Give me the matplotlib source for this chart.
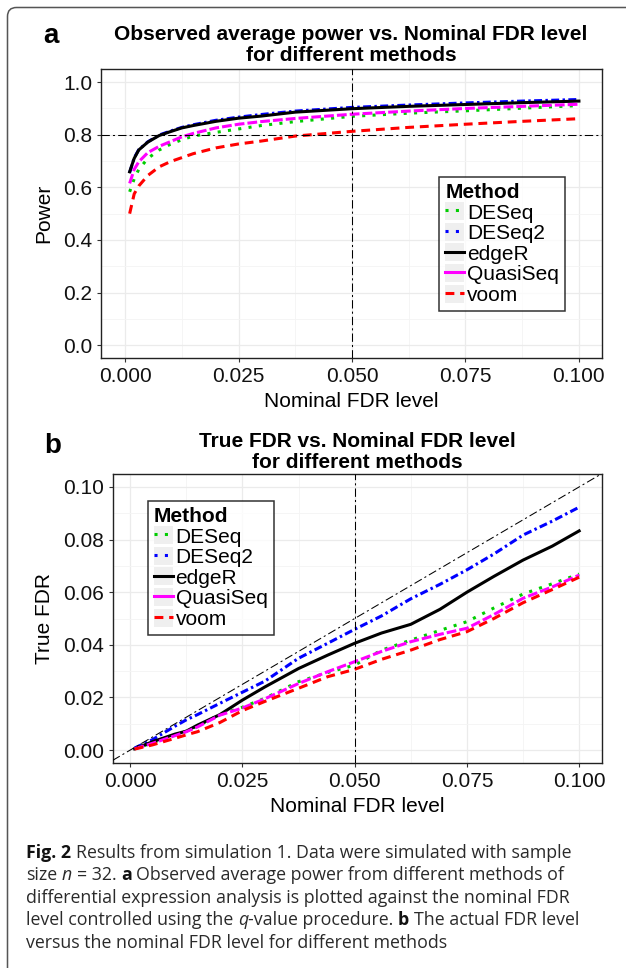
import numpy as np
import matplotlib
matplotlib.use("Agg")
import matplotlib.pyplot as plt
from matplotlib.lines import Line2D
from matplotlib.patches import Rectangle, FancyBboxPatch
from matplotlib.legend_handler import HandlerLine2D

# ---------------- data ----------------
methods = ["DESeq", "DESeq2", "edgeR", "QuasiSeq", "voom"]

# Panel a: observed average power vs nominal FDR
nominal_a = [0.001, 0.002, 0.003, 0.005, 0.0075, 0.01, 0.0125, 0.015, 0.02, 0.025,
             0.03, 0.0375, 0.05, 0.0625, 0.075, 0.0875, 0.1]
power_deseq = [0.583, 0.632, 0.668, 0.710, 0.742, 0.764, 0.781, 0.795, 0.809, 0.822,
               0.835, 0.850, 0.870, 0.882, 0.891, 0.901, 0.911]
power_deseq2 = [0.656, 0.712, 0.743, 0.773, 0.799, 0.814, 0.828, 0.838, 0.855, 0.867,
                0.877, 0.890, 0.904, 0.913, 0.921, 0.928, 0.934]
power_edger = [0.659, 0.710, 0.742, 0.772, 0.797, 0.812, 0.826, 0.835, 0.851, 0.863,
               0.871, 0.886, 0.899, 0.908, 0.915, 0.922, 0.928]
power_quasiseq = [0.615, 0.668, 0.697, 0.732, 0.756, 0.774, 0.792, 0.805, 0.826, 0.840,
                  0.850, 0.862, 0.878, 0.890, 0.900, 0.908, 0.916]
power_voom = [0.500, 0.575, 0.605, 0.645, 0.678, 0.698, 0.713, 0.728, 0.750, 0.765,
              0.776, 0.795, 0.813, 0.828, 0.840, 0.851, 0.861]

# Panel b: true FDR vs nominal FDR
nominal_b = [0.001, 0.005, 0.01, 0.0125, 0.015, 0.02, 0.025, 0.03, 0.0375, 0.044,
             0.05, 0.056, 0.0625, 0.069, 0.075, 0.081, 0.0875, 0.094, 0.1]
fdr_deseq = [0.0005, 0.0028, 0.0058, 0.0072, 0.0092, 0.0135, 0.0163, 0.0197, 0.0260, 0.0295,
             0.0323, 0.0380, 0.0418, 0.0455, 0.0488, 0.0540, 0.0593, 0.0632, 0.0669]
fdr_deseq2 = [0.0008, 0.0040, 0.0091, 0.0115, 0.0135, 0.0178, 0.0220, 0.0262, 0.0349, 0.0406,
              0.0459, 0.0510, 0.0575, 0.0630, 0.0685, 0.0745, 0.0817, 0.0870, 0.0923]
fdr_edger = [0.0005, 0.0032, 0.0061, 0.0072, 0.0095, 0.0135, 0.0190, 0.0240, 0.0310, 0.0361,
             0.0406, 0.0445, 0.0478, 0.0535, 0.0600, 0.0660, 0.0722, 0.0775, 0.0833]
fdr_quasiseq = [0.0005, 0.0026, 0.0055, 0.0070, 0.0088, 0.0133, 0.0160, 0.0195, 0.0253, 0.0298,
                0.0336, 0.0375, 0.0412, 0.0440, 0.0463, 0.0515, 0.0577, 0.0620, 0.0665]
fdr_voom = [0.0004, 0.0020, 0.0045, 0.0058, 0.0070, 0.0105, 0.0150, 0.0185, 0.0235, 0.0279,
            0.0307, 0.0345, 0.0380, 0.0420, 0.0450, 0.0500, 0.0560, 0.0610, 0.0657]

x_ticks = [0.0, 0.025, 0.05, 0.075, 0.1]
power_ticks = [0.0, 0.2, 0.4, 0.6, 0.8, 1.0]
fdr_ticks = [0.0, 0.02, 0.04, 0.06, 0.08, 0.10]
nominal_ref = 0.05
power_ref = 0.8

# ---------------- styles ----------------
colors = {"DESeq": "#00cd00", "DESeq2": "#0000ff", "edgeR": "#000000",
          "QuasiSeq": "#ff00ff", "voom": "#ff0000"}
styles = {"DESeq": (0, (1, 2.4)), "DESeq2": (0, (2.6, 1.1, 0.8, 1.1)),
          "edgeR": "solid", "QuasiSeq": (0, (3.2, 1.0)), "voom": (0, (2.9, 1.9))}
key_styles = {"DESeq": (0, (1, 2.4)), "DESeq2": (0, (1, 2.4)), "edgeR": "solid",
              "QuasiSeq": "solid", "voom": (0, (2.9, 1.9))}
LW = 2.2

plt.rcParams['font.family'] = ['Liberation Sans', 'DejaVu Sans']

W, H = 626, 968
fig = plt.figure(figsize=(W / 100, H / 100), dpi=100)
fig.patch.set_facecolor("white")


class KeyHandler(HandlerLine2D):
    def create_artists(self, legend, orig_handle, xdescent, ydescent, width,
                       height, fontsize, trans):
        bg = Rectangle((-xdescent, -ydescent), width, height, transform=trans,
                       facecolor="#efefef", edgecolor="none")
        arts = super().create_artists(legend, orig_handle, xdescent, ydescent,
                                      width, height, fontsize, trans)
        return [bg] + list(arts)


def style_axes(ax, xminor, yminor):
    ax.set_facecolor("white")
    ax.set_xticks(xminor, minor=True)
    ax.set_yticks(yminor, minor=True)
    ax.grid(which="major", color="#ebebeb", lw=0.9, zorder=0)
    ax.grid(which="minor", color="#f4f4f4", lw=0.6, zorder=0)
    ax.set_axisbelow(True)
    for s in ax.spines.values():
        s.set_color("#222222")
        s.set_linewidth(1.0)
    ax.tick_params(which="major", length=3, width=0.8, color="#333333",
                   labelsize=15, labelcolor="#111111", pad=3)
    ax.tick_params(which="minor", length=0)


def add_legend(ax, anchor_px):
    handles = [Line2D([], [], color=colors[m], lw=LW, linestyle=key_styles[m])
               for m in methods]
    leg = ax.legend(handles, methods, title="Method", loc="upper left",
                    bbox_to_anchor=(anchor_px[0] / W, 1 - anchor_px[1] / H),
                    bbox_transform=fig.transFigure, borderaxespad=0,
                    fontsize=15, title_fontproperties={"weight": "bold", "size": 15},
                    frameon=True, fancybox=False, edgecolor="black",
                    handlelength=0.9, handleheight=0.95, handletextpad=0.15,
                    labelspacing=0.02, borderpad=0.3, alignment="left",
                    handler_map={Line2D: KeyHandler()})
    leg.get_frame().set_linewidth(1.1)
    leg.set_zorder(10)
    return leg


# ---------------- panel a ----------------
axa = fig.add_axes([100.6 / W, 1 - 358.3 / H, 501 / W, 289.3 / H])
series_a = {"DESeq": power_deseq, "DESeq2": power_deseq2, "edgeR": power_edger,
            "QuasiSeq": power_quasiseq, "voom": power_voom}
for m in methods:
    axa.plot(nominal_a, series_a[m], color=colors[m], lw=LW, linestyle=styles[m],
             zorder=3)
refdash = (0, (8, 3, 2, 3))
axa.axvline(nominal_ref, color="black", lw=0.75, linestyle=refdash, zorder=4)
axa.axhline(power_ref, color="black", lw=0.75, linestyle=refdash, zorder=4)
axa.set_xlim(-0.0054, 0.105)
axa.set_ylim(-0.05, 1.05)
axa.set_xticks(x_ticks)
axa.set_xticklabels([f"{v:.3f}" for v in x_ticks])
axa.set_yticks(power_ticks)
axa.set_yticklabels([f"{v:.1f}" for v in power_ticks])
style_axes(axa, [0.0125, 0.0375, 0.0625, 0.0875], [0.1, 0.3, 0.5, 0.7, 0.9])
axa.set_xlabel("Nominal FDR level", fontsize=15)
axa.xaxis.set_label_coords(0.5, -0.150)
axa.xaxis.label.set_verticalalignment("center")
axa.set_ylabel("Power", fontsize=15)
axa.yaxis.set_label_coords(-0.113, 0.5)
axa.yaxis.label.set_verticalalignment("center")
axa.text(0.5, 1.083, "Observed average power vs. Nominal FDR level\nfor different methods",
         transform=axa.transAxes, ha="center", va="center", fontsize=15,
         fontweight="bold", linespacing=1.15)
add_legend(axa, (439, 176.7))
fig.text(43 / W, 1 - 43 / H, "a", fontsize=20, fontweight="bold", ha="left",
         va="baseline")

# ---------------- panel b ----------------
axb = fig.add_axes([112.6 / W, 1 - 763.3 / H, 489 / W, 289 / H])
series_b = {"DESeq": fdr_deseq, "DESeq2": fdr_deseq2, "edgeR": fdr_edger,
            "QuasiSeq": fdr_quasiseq, "voom": fdr_voom}
for m in methods:
    axb.plot(nominal_b, series_b[m], color=colors[m], lw=LW, linestyle=styles[m],
             zorder=3)
axb.axvline(nominal_ref, color="black", lw=0.75, linestyle=refdash, zorder=4)
axb.axline((0, 0), slope=1, color="black", lw=0.75, linestyle=refdash, zorder=4)
axb.set_xlim(-0.0039, 0.105)
axb.set_ylim(-0.005, 0.1048)
axb.set_xticks(x_ticks)
axb.set_xticklabels([f"{v:.3f}" for v in x_ticks])
axb.set_yticks(fdr_ticks)
axb.set_yticklabels([f"{v:.2f}" for v in fdr_ticks])
style_axes(axb, [0.0125, 0.0375, 0.0625, 0.0875], [0.01, 0.03, 0.05, 0.07, 0.09])
axb.set_xlabel("Nominal FDR level", fontsize=15)
axb.xaxis.set_label_coords(0.5, -0.150)
axb.xaxis.label.set_verticalalignment("center")
axb.set_ylabel("True FDR", fontsize=15)
axb.yaxis.set_label_coords(-0.140, 0.5)
axb.yaxis.label.set_verticalalignment("center")
axb.text(0.5, 1.076, "True FDR vs. Nominal FDR level\nfor different methods",
         transform=axb.transAxes, ha="center", va="center", fontsize=15,
         fontweight="bold", linespacing=1.15)
add_legend(axb, (147.5, 500.7))
fig.text(44 / W, 1 - 453 / H, "b", fontsize=20, fontweight="bold", ha="left",
         va="baseline")

# ---------------- page frame ----------------
frame = FancyBboxPatch((0.075, -0.5), 7.0, (H - 7.5) / 100 + 0.5,
                       boxstyle="round,pad=0,rounding_size=0.09",
                       transform=fig.dpi_scale_trans, facecolor="none",
                       edgecolor="#555555", linewidth=1.1)
fig.add_artist(frame)

# ---------------- caption ----------------
renderer = fig.canvas.get_renderer()
CAP_FONT = ["Open Sans", "DejaVu Sans"]
N = {"weight": "normal", "style": "normal", "color": "#2a2a2a"}
B = {"weight": "bold", "style": "normal", "color": "#111111"}
I = {"weight": "normal", "style": "italic", "color": "#2a2a2a"}

# (text, style, space after)
caption_lines = [
    [("Fig. 2", B, True), ("Results from simulation 1. Data were simulated with sample", N, False)],
    [("size", N, True), ("n", I, True), ("= 32.", N, True), ("a", B, True),
     ("Observed average power from different methods of", N, False)],
    [("differential expression analysis is plotted against the nominal FDR", N, False)],
    [("level controlled using the", N, True), ("q", I, False), ("-value procedure.", N, True),
     ("b", B, True), ("The actual FDR level", N, False)],
    [("versus the nominal FDR level for different methods", N, False)],
]
baselines = [858, 880.4, 902.8, 925.3, 947.7]


def twidth(s, size, kw):
    t = fig.text(0, 0, s, fontsize=size, family=CAP_FONT, fontweight=kw["weight"],
                 fontstyle=kw["style"])
    w = t.get_window_extent(renderer).width
    t.remove()
    return w


def space_w(size):
    return twidth("a a", size, N) - twidth("aa", size, N)


def line_width(segs, size):
    sp_ = space_w(size)
    return sum(twidth(s, size, kw) + (sp_ if gap else 0) for s, kw, gap in segs)


size = 10 * 548 / line_width(caption_lines[0], 10)
sp = space_w(size)
for segs, yb in zip(caption_lines, baselines):
    x = 26.0
    for s, kw, gap in segs:
        fig.text(x / W, 1 - yb / H, s, fontsize=size, family=CAP_FONT,
                 fontweight=kw["weight"], fontstyle=kw["style"], color=kw["color"],
                 ha="left", va="baseline")
        x += twidth(s, size, kw) + (sp if gap else 0.0)

fig.savefig("out.png", dpi=100, facecolor="white")
